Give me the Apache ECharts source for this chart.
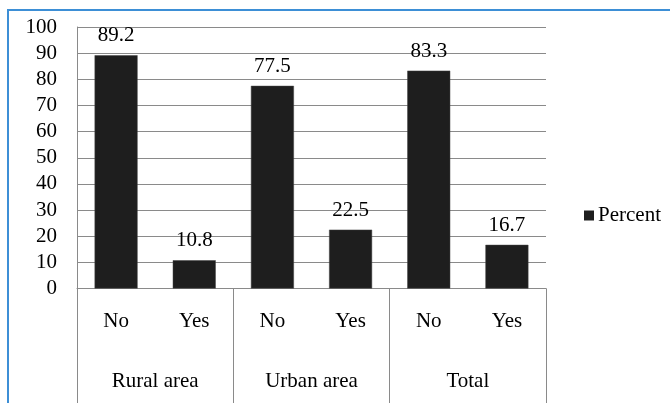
<!DOCTYPE html>
<html>
<head>
<meta charset="utf-8">
<script src="https://cdn.jsdelivr.net/npm/echarts@6/dist/echarts.min.js"></script>
<style>
html,body{margin:0;padding:0;background:#fff;}
#chart{width:670px;height:403px;}
</style>
</head>
<body>
<div id="chart"></div>
<script>
const subCategories = ['No', 'Yes', 'No', 'Yes', 'No', 'Yes'];
const groups = ['Rural area', 'Urban area', 'Total'];
const percentValues = [89.2, 10.8, 77.5, 22.5, 83.3, 16.7];
const seriesName = 'Percent';

const FONT = "'Liberation Serif', 'Times New Roman', serif";
const GRAY = '#8a8a8a';
const FS = 21;

const chart = echarts.init(document.getElementById('chart'), null, {renderer: 'canvas'});
chart.setOption({
  animation: false,
  backgroundColor: '#fff',
  graphic: [{
    type: 'rect',
    shape: {x: 8, y: 10, width: 700, height: 500},
    style: {fill: 'none', stroke: '#3d8fd6', lineWidth: 2},
    silent: true
  }],
  grid: {left: 77, top: 27, right: 124, bottom: 114.5, containLabel: false},
  legend: {
    data: [seriesName],
    left: 579, top: 200,
    icon: 'rect', itemWidth: 10, itemHeight: 10, itemGap: 4,
    itemStyle: {borderWidth: 0, color: '#1e1e1e'},
    textStyle: {fontFamily: FONT, fontSize: FS, color: '#000', padding: [0, 0, 0, -1]}
  },
  xAxis: [{
    type: 'category',
    data: subCategories,
    position: 'bottom',
    axisLine: {show: true, lineStyle: {color: GRAY, width: 1}},
    axisTick: {show: false},
    axisLabel: {fontFamily: FONT, fontSize: FS, color: '#000', margin: 22, interval: 0},
    splitLine: {show: false}
  }, {
    type: 'category',
    data: groups,
    position: 'bottom',
    axisLine: {show: false},
    axisTick: {show: true, length: 116, interval: 0, lineStyle: {color: GRAY, width: 1}},
    axisLabel: {fontFamily: FONT, fontSize: FS, color: '#000', margin: 82, interval: 0},
    splitLine: {show: false}
  }],
  yAxis: {
    type: 'value',
    min: 0, max: 100, interval: 10,
    axisLine: {show: true, lineStyle: {color: GRAY, width: 1}},
    axisTick: {show: false},
    axisLabel: {fontFamily: FONT, fontSize: FS, color: '#000', margin: 20},
    splitLine: {show: true, lineStyle: {color: GRAY, width: 1}}
  },
  series: [{
    name: seriesName,
    type: 'bar',
    xAxisIndex: 0,
    data: percentValues,
    barWidth: '55%',
    itemStyle: {color: '#1e1e1e', borderColor: '#444', borderWidth: 0.5},
    label: {
      show: true, position: 'top', distance: 9,
      fontFamily: FONT, fontSize: FS, color: '#000',
      formatter: p => p.value.toFixed(1)
    }
  }]
});
</script>
</body>
</html>
